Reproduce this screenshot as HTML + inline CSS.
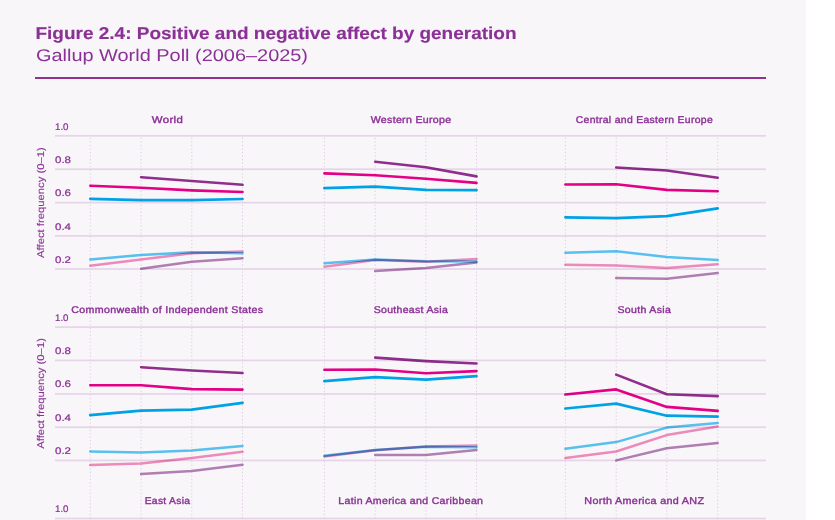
<!DOCTYPE html>
<html><head><meta charset="utf-8"><title>Figure 2.4</title>
<style>
html,body{margin:0;padding:0;background:#fff;width:835px;height:520px;overflow:hidden}
svg{display:block}
text{font-family:"Liberation Sans",sans-serif;text-rendering:geometricPrecision}
.ln{fill:none;stroke-linejoin:round;stroke-linecap:round;mix-blend-mode:multiply}
</style></head><body>
<svg width="835" height="520" viewBox="0 0 835 520">
<rect x="0" y="0" width="806" height="520" fill="#f8f6f9"/>
<text x="35.5" y="38.7" font-size="17.2" font-weight="700" fill="#8b3096" stroke="#8b3096" stroke-width="0.15" textLength="481" lengthAdjust="spacingAndGlyphs">Figure 2.4: Positive and negative affect by generation</text>
<text x="36" y="61.3" font-size="17" font-weight="400" fill="#8b3096" textLength="272" lengthAdjust="spacingAndGlyphs">Gallup World Poll (2006–2025)</text>
<rect x="35" y="77" width="731" height="2" fill="#93318f"/>

<rect x="55" y="134.95" width="711" height="1.75" fill="#e6d5e9"/>
<rect x="55" y="168.35" width="711" height="1.75" fill="#e6d5e9"/>
<rect x="55" y="201.75" width="711" height="1.75" fill="#e6d5e9"/>
<rect x="55" y="235.05" width="711" height="1.75" fill="#e6d5e9"/>
<rect x="55" y="268.15" width="711" height="1.75" fill="#e6d5e9"/>
<rect x="55" y="326.25" width="711" height="1.75" fill="#e6d5e9"/>
<rect x="55" y="359.55" width="711" height="1.75" fill="#e6d5e9"/>
<rect x="55" y="393.05" width="711" height="1.75" fill="#e6d5e9"/>
<rect x="55" y="426.35" width="711" height="1.75" fill="#e6d5e9"/>
<rect x="55" y="459.55" width="711" height="1.75" fill="#e6d5e9"/>
<rect x="55" y="517.65" width="711" height="1.75" fill="#e6d5e9"/>
<line x1="90.3" y1="137.91" x2="90.3" y2="520" stroke="#e0cde4" stroke-width="1.0" stroke-dasharray="1.3 2.2132"/>
<line x1="141.1" y1="137.91" x2="141.1" y2="520" stroke="#e0cde4" stroke-width="1.0" stroke-dasharray="1.3 2.2132"/>
<line x1="191.8" y1="137.91" x2="191.8" y2="520" stroke="#e0cde4" stroke-width="1.0" stroke-dasharray="1.3 2.2132"/>
<line x1="242.5" y1="137.91" x2="242.5" y2="520" stroke="#e0cde4" stroke-width="1.0" stroke-dasharray="1.3 2.2132"/>
<line x1="324.4" y1="137.91" x2="324.4" y2="520" stroke="#e0cde4" stroke-width="1.0" stroke-dasharray="1.3 2.2132"/>
<line x1="375.2" y1="137.91" x2="375.2" y2="520" stroke="#e0cde4" stroke-width="1.0" stroke-dasharray="1.3 2.2132"/>
<line x1="425.9" y1="137.91" x2="425.9" y2="520" stroke="#e0cde4" stroke-width="1.0" stroke-dasharray="1.3 2.2132"/>
<line x1="476.5" y1="137.91" x2="476.5" y2="520" stroke="#e0cde4" stroke-width="1.0" stroke-dasharray="1.3 2.2132"/>
<line x1="565.4" y1="137.91" x2="565.4" y2="520" stroke="#e0cde4" stroke-width="1.0" stroke-dasharray="1.3 2.2132"/>
<line x1="616.2" y1="137.91" x2="616.2" y2="520" stroke="#e0cde4" stroke-width="1.0" stroke-dasharray="1.3 2.2132"/>
<line x1="666.8" y1="137.91" x2="666.8" y2="520" stroke="#e0cde4" stroke-width="1.0" stroke-dasharray="1.3 2.2132"/>
<line x1="717.7" y1="137.91" x2="717.7" y2="520" stroke="#e0cde4" stroke-width="1.0" stroke-dasharray="1.3 2.2132"/>
<text x="55" y="129.5" font-size="9.6" fill="#8b3096" stroke="#8b3096" stroke-width="0.22" textLength="13.5" lengthAdjust="spacingAndGlyphs">1.0</text>
<text x="55" y="162.9" font-size="9.6" fill="#8b3096" stroke="#8b3096" stroke-width="0.22" textLength="16" lengthAdjust="spacingAndGlyphs">0.8</text>
<text x="55" y="196.3" font-size="9.6" fill="#8b3096" stroke="#8b3096" stroke-width="0.22" textLength="16" lengthAdjust="spacingAndGlyphs">0.6</text>
<text x="55" y="229.6" font-size="9.6" fill="#8b3096" stroke="#8b3096" stroke-width="0.22" textLength="16" lengthAdjust="spacingAndGlyphs">0.4</text>
<text x="55" y="262.7" font-size="9.6" fill="#8b3096" stroke="#8b3096" stroke-width="0.22" textLength="16" lengthAdjust="spacingAndGlyphs">0.2</text>
<text x="55" y="320.6" font-size="9.6" fill="#8b3096" stroke="#8b3096" stroke-width="0.22" textLength="13.5" lengthAdjust="spacingAndGlyphs">1.0</text>
<text x="55" y="353.9" font-size="9.6" fill="#8b3096" stroke="#8b3096" stroke-width="0.22" textLength="16" lengthAdjust="spacingAndGlyphs">0.8</text>
<text x="55" y="387.4" font-size="9.6" fill="#8b3096" stroke="#8b3096" stroke-width="0.22" textLength="16" lengthAdjust="spacingAndGlyphs">0.6</text>
<text x="55" y="420.7" font-size="9.6" fill="#8b3096" stroke="#8b3096" stroke-width="0.22" textLength="16" lengthAdjust="spacingAndGlyphs">0.4</text>
<text x="55" y="453.9" font-size="9.6" fill="#8b3096" stroke="#8b3096" stroke-width="0.22" textLength="16" lengthAdjust="spacingAndGlyphs">0.2</text>
<text x="55" y="512.4" font-size="9.6" fill="#8b3096" stroke="#8b3096" stroke-width="0.22" textLength="13.5" lengthAdjust="spacingAndGlyphs">1.0</text>
<text x="0" y="0" font-size="9.8" fill="#8b3096" stroke="#8b3096" stroke-width="0.12" text-anchor="middle" transform="translate(43.5 202.6) rotate(-90)" textLength="110.6" lengthAdjust="spacingAndGlyphs">Affect frequency (0–1)</text>
<text x="0" y="0" font-size="9.8" fill="#8b3096" stroke="#8b3096" stroke-width="0.12" text-anchor="middle" transform="translate(43.5 393.4) rotate(-90)" textLength="110.6" lengthAdjust="spacingAndGlyphs">Affect frequency (0–1)</text>
<text x="151.8" y="122.9" font-size="9.8" font-weight="400" letter-spacing="0.3" fill="#8b3096" stroke="#8b3096" stroke-width="0.38" textLength="31.4" lengthAdjust="spacingAndGlyphs">World</text>
<text x="370.7" y="122.9" font-size="9.8" font-weight="400" letter-spacing="0.3" fill="#8b3096" stroke="#8b3096" stroke-width="0.38" textLength="80.8" lengthAdjust="spacingAndGlyphs">Western Europe</text>
<text x="575.7" y="122.9" font-size="9.8" font-weight="400" letter-spacing="0.3" fill="#8b3096" stroke="#8b3096" stroke-width="0.38" textLength="137.3" lengthAdjust="spacingAndGlyphs">Central and Eastern Europe</text>
<text x="71.3" y="313.0" font-size="9.8" font-weight="400" letter-spacing="0.3" fill="#8b3096" stroke="#8b3096" stroke-width="0.38" textLength="192.1" lengthAdjust="spacingAndGlyphs">Commonwealth of Independent States</text>
<text x="373.7" y="313.0" font-size="9.8" font-weight="400" letter-spacing="0.3" fill="#8b3096" stroke="#8b3096" stroke-width="0.38" textLength="74.5" lengthAdjust="spacingAndGlyphs">Southeast Asia</text>
<text x="617.5" y="313.0" font-size="9.8" font-weight="400" letter-spacing="0.3" fill="#8b3096" stroke="#8b3096" stroke-width="0.38" textLength="53.7" lengthAdjust="spacingAndGlyphs">South Asia</text>
<text x="144.7" y="504.0" font-size="9.8" font-weight="400" letter-spacing="0.3" fill="#8b3096" stroke="#8b3096" stroke-width="0.38" textLength="45.7" lengthAdjust="spacingAndGlyphs">East Asia</text>
<text x="338.3" y="504.0" font-size="9.8" font-weight="400" letter-spacing="0.3" fill="#8b3096" stroke="#8b3096" stroke-width="0.38" textLength="145.0" lengthAdjust="spacingAndGlyphs">Latin America and Caribbean</text>
<text x="584.3" y="504.0" font-size="9.8" font-weight="400" letter-spacing="0.3" fill="#8b3096" stroke="#8b3096" stroke-width="0.38" textLength="120.1" lengthAdjust="spacingAndGlyphs">North America and ANZ</text>
<path class="ln" d="M90.3 265.8 L141.1 259.4 L191.8 253.2 L242.5 251.5" stroke="#f38fbe" stroke-width="2.5"/>
<path class="ln" d="M90.3 259.4 L141.1 255.0 L191.8 252.3 L242.5 253.2" stroke="#5ac7f4" stroke-width="2.5"/>
<path class="ln" d="M141.1 268.8 L191.8 261.8 L242.5 258.2" stroke="#b583b6" stroke-width="2.5"/>
<path class="ln" d="M90.3 198.8 L141.1 200.2 L191.8 200.2 L242.5 199.0" stroke="#00a8ec" stroke-width="2.7"/>
<path class="ln" d="M90.3 185.7 L141.1 187.8 L191.8 190.4 L242.5 192.0" stroke="#ea008a" stroke-width="2.6"/>
<path class="ln" d="M141.1 177.2 L191.8 181.0 L242.5 184.8" stroke="#942f90" stroke-width="2.6"/>
<path class="ln" d="M324.4 266.7 L375.2 259.9 L425.9 261.8 L476.5 259.1" stroke="#f38fbe" stroke-width="2.5"/>
<path class="ln" d="M324.4 263.2 L375.2 259.4 L425.9 261.2 L476.5 261.5" stroke="#5ac7f4" stroke-width="2.5"/>
<path class="ln" d="M375.2 271.0 L425.9 268.0 L476.5 262.4" stroke="#b583b6" stroke-width="2.5"/>
<path class="ln" d="M324.4 188.2 L375.2 186.7 L425.9 189.9 L476.5 190.2" stroke="#00a8ec" stroke-width="2.7"/>
<path class="ln" d="M324.4 173.4 L375.2 175.3 L425.9 178.8 L476.5 182.9" stroke="#ea008a" stroke-width="2.6"/>
<path class="ln" d="M375.2 161.7 L425.9 167.3 L476.5 176.4" stroke="#942f90" stroke-width="2.6"/>
<path class="ln" d="M565.4 264.8 L616.2 265.6 L666.8 268.0 L717.7 264.2" stroke="#f38fbe" stroke-width="2.5"/>
<path class="ln" d="M565.4 252.8 L616.2 251.2 L666.8 257.0 L717.7 259.9" stroke="#5ac7f4" stroke-width="2.5"/>
<path class="ln" d="M616.2 278.0 L666.8 278.8 L717.7 273.1" stroke="#b583b6" stroke-width="2.5"/>
<path class="ln" d="M565.4 217.3 L616.2 218.2 L666.8 216.2 L717.7 208.4" stroke="#00a8ec" stroke-width="2.7"/>
<path class="ln" d="M565.4 184.5 L616.2 184.2 L666.8 189.9 L717.7 191.2" stroke="#ea008a" stroke-width="2.6"/>
<path class="ln" d="M616.2 167.5 L666.8 170.5 L717.7 177.8" stroke="#942f90" stroke-width="2.6"/>
<path class="ln" d="M90.3 465.0 L141.1 463.6 L191.8 458.0 L242.5 451.8" stroke="#f38fbe" stroke-width="2.5"/>
<path class="ln" d="M90.3 451.5 L141.1 452.4 L191.8 450.5 L242.5 445.9" stroke="#5ac7f4" stroke-width="2.5"/>
<path class="ln" d="M141.1 473.9 L191.8 470.9 L242.5 464.7" stroke="#b583b6" stroke-width="2.5"/>
<path class="ln" d="M90.3 415.2 L141.1 410.6 L191.8 409.6 L242.5 402.8" stroke="#00a8ec" stroke-width="2.7"/>
<path class="ln" d="M90.3 385.2 L141.1 385.2 L191.8 389.1 L242.5 389.6" stroke="#ea008a" stroke-width="2.6"/>
<path class="ln" d="M141.1 367.2 L191.8 370.5 L242.5 373.0" stroke="#942f90" stroke-width="2.6"/>
<path class="ln" d="M324.4 456.4 L375.2 450.2 L425.9 446.4 L476.5 445.6" stroke="#f38fbe" stroke-width="2.5"/>
<path class="ln" d="M324.4 455.8 L375.2 449.9 L425.9 446.7 L476.5 447.2" stroke="#5ac7f4" stroke-width="2.5"/>
<path class="ln" d="M375.2 455.0 L425.9 455.0 L476.5 449.9" stroke="#b583b6" stroke-width="2.5"/>
<path class="ln" d="M324.4 381.2 L375.2 377.2 L425.9 379.7 L476.5 376.2" stroke="#00a8ec" stroke-width="2.7"/>
<path class="ln" d="M324.4 369.7 L375.2 369.5 L425.9 373.2 L476.5 371.1" stroke="#ea008a" stroke-width="2.6"/>
<path class="ln" d="M375.2 357.6 L425.9 361.1 L476.5 363.5" stroke="#942f90" stroke-width="2.6"/>
<path class="ln" d="M565.4 458.0 L616.2 451.5 L666.8 435.1 L717.7 426.5" stroke="#f38fbe" stroke-width="2.5"/>
<path class="ln" d="M565.4 448.8 L616.2 442.1 L666.8 427.6 L717.7 423.0" stroke="#5ac7f4" stroke-width="2.5"/>
<path class="ln" d="M616.2 460.4 L666.8 448.2 L717.7 442.9" stroke="#b583b6" stroke-width="2.5"/>
<path class="ln" d="M565.4 408.5 L616.2 403.6 L666.8 415.7 L717.7 416.6" stroke="#00a8ec" stroke-width="2.7"/>
<path class="ln" d="M565.4 394.5 L616.2 389.4 L666.8 406.9 L717.7 410.9" stroke="#ea008a" stroke-width="2.6"/>
<path class="ln" d="M616.2 374.6 L666.8 394.2 L717.7 396.1" stroke="#942f90" stroke-width="2.6"/>
</svg>
</body></html>
